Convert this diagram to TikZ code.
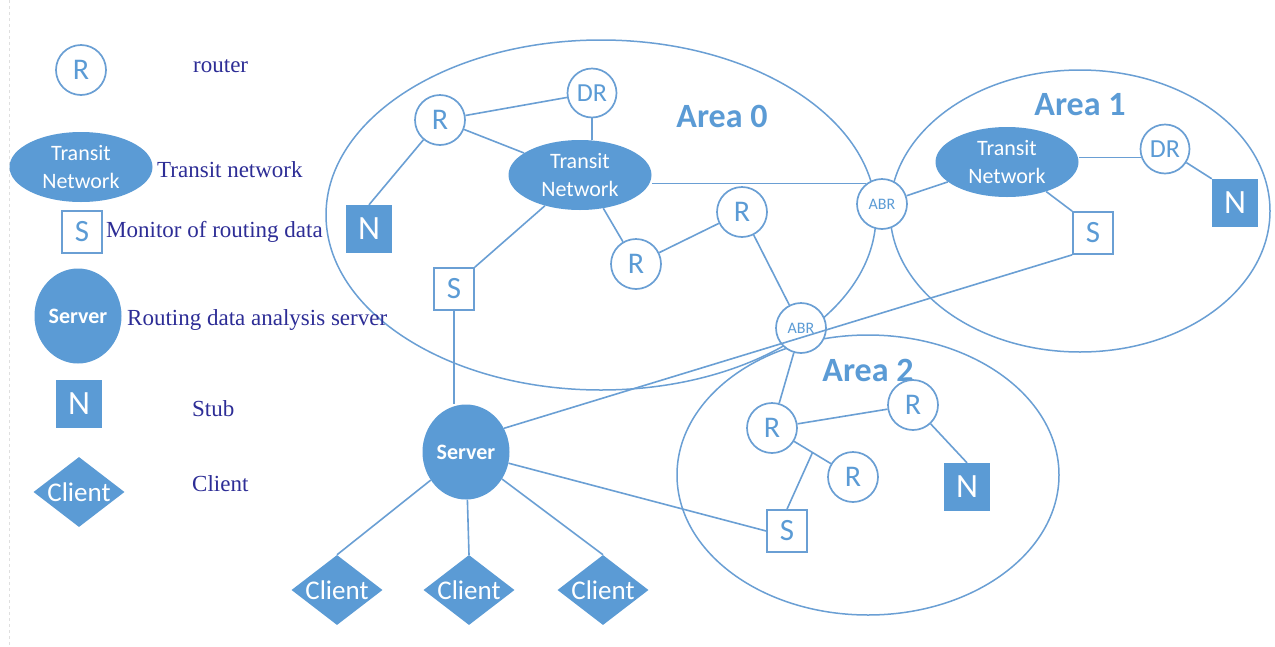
\documentclass[tikz,border=0pt]{standalone}
\usepackage{fontspec}
\setmainfont{Liberation Serif}
\newfontfamily\carl{Carlito}
\usetikzlibrary{shapes.geometric,calc}
\definecolor{ob}{HTML}{5B9BD5}
\definecolor{ln}{HTML}{6A9FD4}
\definecolor{lt}{RGB}{45,45,150}
\begin{document}
\begin{tikzpicture}[x=1pt,y=-1pt,
  area/.style={draw=ln, line width=1.5pt},
  edge/.style={draw=ln, line width=1.6pt},
  rtr/.style={circle, draw=ln, line width=1.7pt, fill=white, minimum size=50pt, inner sep=0pt, text=ob, font=\carl\fontsize{30}{30}\selectfont},
  drn/.style={rtr, minimum size=49pt, font=\carl\fontsize{26}{26}\selectfont},
  abr/.style={rtr, minimum size=50pt, font=\carl\fontsize{16}{16}\selectfont},
  tnet/.style={ellipse, fill=ob, minimum width=143pt, minimum height=70pt, inner sep=0pt, text=white, align=center, font=\carl\fontsize{22}{28}\selectfont},
  mon/.style={rectangle, draw=ln, line width=1.7pt, fill=white, minimum width=40pt, minimum height=42pt, inner sep=0pt, text=ob, font=\carl\fontsize{31}{31}\selectfont},
  stub/.style={rectangle, fill=ob, minimum width=46pt, minimum height=48pt, inner sep=0pt, text=white, font=\carl\fontsize{34}{34}\selectfont},
  srv/.style={ellipse, fill=ob, minimum width=87pt, minimum height=95pt, inner sep=0pt, text=white, font=\carl\bfseries\fontsize{22}{22}\selectfont},
  cli/.style={diamond, fill=ob, minimum width=91pt, minimum height=70pt, inner sep=0pt,
     label={[text=white, font=\carl\fontsize{27}{27}\selectfont]center:Client}},
  leg/.style={anchor=base west, text=lt, inner sep=0pt, font=\fontsize{23}{23}\selectfont},
  arealbl/.style={text=ob, inner sep=0pt, font=\carl\bfseries\fontsize{34}{34}\selectfont}
]
\useasboundingbox (0,0) rectangle (1275,646);
\fill[white] (0,0) rectangle (1275,646);
\draw[gray!25, dashed, line width=0.8pt] (9,0) -- (9,646);

% areas
\draw[area] (601,215) ellipse [x radius=275pt, y radius=175pt];
\draw[area] (1080,211) ellipse [x radius=190pt, y radius=141pt];
\draw[area] (868,475) ellipse [x radius=191pt, y radius=140pt];
\node[arealbl] (a0) at (722,116) {Area 0};
\node[arealbl] (a1) at (1080,105) {Area 1};
\node[arealbl] (a2) at (868,370) {Area 2};

% legend
\node[rtr] (lr) at (81,70) {R};
\node[leg] (lrt) at (193,72) {router};
\node[tnet] (ltn) at (81,167) {Transit\\Network};
\node[leg] (ltnt) at (157,177) {Transit network};
\node[mon] (ls) at (82,232) {S};
\node[leg] (lst) at (106,237) {Monitor of routing data};
\node[srv] (lsv) at (78,316) {Server};
\node[leg] (lsvt) at (127,325) {Routing data analysis server};
\node[stub] (ln) at (79,404) {N};
\node[leg] (lnt) at (192,416) {Stub};
\node[cli] (lc) at (79,492) {};
\node[leg] (lct) at (192,491) {Client};

% area 0
\node[rtr] (r1) at (440,120) {R};
\node[drn] (dr0) at (592,93) {DR};
\node[tnet] (tn0) at (580,175) {Transit\\Network};
\node[stub] (n0) at (369,229) {N};
\node[mon] (s0) at (454,289) {S};
\node[rtr] (r2) at (636,264) {R};
\node[rtr] (r3) at (742,212) {R};
\node[abr] (abr1) at (882,204) {ABR};
\node[abr] (abr2) at (801,328) {ABR};

% area 1
\node[tnet] (tn1) at (1007,162) {Transit\\Network};
\node[drn] (dr1) at (1165,149) {DR};
\node[stub] (n1) at (1235,203) {N};
\node[mon] (s1) at (1093,233) {S};

% area 2
\node[rtr] (r2a) at (772,428) {R};
\node[rtr] (r2b) at (913,405) {R};
\node[rtr] (r2c) at (853,477) {R};
\node[stub] (n2) at (967,487) {N};
\node[mon] (s2) at (787,531) {S};

% server and clients
\node[srv] (server) at (466,452) {Server};
\node[cli] (c1) at (337,590) {};
\node[cli] (c2) at (469,590) {};
\node[cli] (c3) at (603,590) {};

% connectors
\draw[edge] (r1) -- (dr0);
\draw[edge] (r1) -- (tn0);
\draw[edge] (r1) -- (n0.north);
\draw[edge] (dr0.south) -- (dr0.south |- tn0.north);
\draw[edge] (tn0) -- (s0.north east);
\draw[edge] (tn0.305) -- (r2);
\draw[edge] (r2) -- (r3);
\draw[edge] (abr1.127) -- (abr1.127 -| tn0.east);
\draw[edge] (r3) -- (abr2);
\draw[edge] (abr1) -- (tn1);
\draw[edge] (dr1.200) -- (dr1.200 -| tn1.east);
\draw[edge] (dr1) -- (n1.north west);
\draw[edge] (tn1) -- (s1.north west);
\draw[edge] (server.32) -- (s1.south west);
\draw[edge] (s0.south) -- (s0.south |- server.north);
\draw[edge] (server) -- (s2.west);
\draw[edge] (server) -- (c1.north);
\draw[edge] (server) -- (c2.north);
\draw[edge] (server) -- (c3.north);
\draw[edge] (abr2) -- (r2a);
\draw[edge] (r2a) -- (r2b);
\draw[edge] (r2a) -- (r2c);
\coordinate (mid) at ($(r2a)!0.5!(r2c)$);
\draw[edge] (s2.north) -- (mid);
\draw[edge] (r2b) -- (n2.north);
\end{tikzpicture}
\end{document}
